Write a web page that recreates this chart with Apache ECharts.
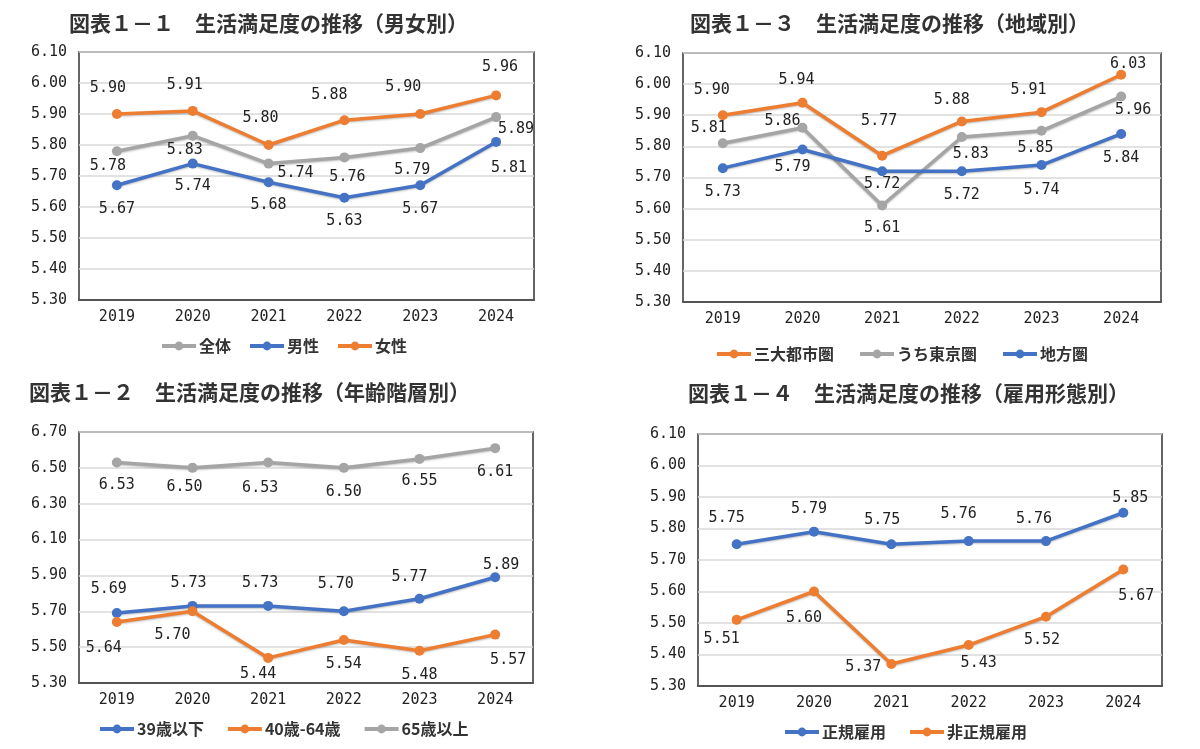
<!DOCTYPE html>
<html>
<head>
<meta charset="utf-8">
<script src="https://cdn.jsdelivr.net/npm/echarts@6/dist/echarts.min.js"></script>
<style>
html,body{margin:0;padding:0;background:#fff;}
#c{width:1200px;height:749px;}
</style>
</head>
<body>
<div id="c"></div>
<script>
// ---- data ----
const years = ['2019', '2020', '2021', '2022', '2023', '2024'];

const titles = [
  '図表１－１　生活満足度の推移（男女別）',
  '図表１－３　生活満足度の推移（地域別）',
  '図表１－２　生活満足度の推移（年齢階層別）',
  '図表１－４　生活満足度の推移（雇用形態別）'
];

// 図表1-1
const p1Total  = [5.78, 5.83, 5.74, 5.76, 5.79, 5.89];
const p1Male   = [5.67, 5.74, 5.68, 5.63, 5.67, 5.81];
const p1Female = [5.90, 5.91, 5.80, 5.88, 5.90, 5.96];
// 図表1-3
const p2Metro  = [5.90, 5.94, 5.77, 5.88, 5.91, 6.03];
const p2Tokyo  = [5.81, 5.86, 5.61, 5.83, 5.85, 5.96];
const p2Local  = [5.73, 5.79, 5.72, 5.72, 5.74, 5.84];
// 図表1-2
const p3Under39 = [5.69, 5.73, 5.73, 5.70, 5.77, 5.89];
const p3Mid     = [5.64, 5.70, 5.44, 5.54, 5.48, 5.57];
const p3Over65  = [6.53, 6.50, 6.53, 6.50, 6.55, 6.61];
// 図表1-4
const p4Regular    = [5.75, 5.79, 5.75, 5.76, 5.76, 5.85];
const p4NonRegular = [5.51, 5.60, 5.37, 5.43, 5.52, 5.67];

// axis ranges
const axisMin = [5.3, 5.3, 5.3, 5.3];
const axisMax = [6.1, 6.1, 6.7, 6.1];
const axisStep = [0.1, 0.1, 0.2, 0.1];

// ---- styles ----
const ORANGE = '#ED7D31', GRAY = '#A5A5A5', BLUE = '#4472C4';
const NUMFONT = 'DejaVu Sans Mono';
const JPFONT = 'Noto Sans CJK JP';

// label offsets (pixels) relative to the point
const offs = {
  p1Total:  [[-9,15],[-8,14],[27,10],[3,20],[-8,22],[20,12]],
  p1Male:   [[0,24],[0,23],[0,23],[0,23],[0,24],[13,26]],
  p1Female: [[-9,-26],[-8,-26],[-8,-27],[-15,-25],[-17,-27],[4,-28]],
  p2Metro:  [[-11,-25],[-6,-23],[-3,-35],[-10,-21],[-13,-22],[7,-11]],
  p2Tokyo:  [[-14,-15],[-20,-7],[0,23],[9,17],[-6,17],[12,14]],
  p2Local:  [[0,24],[-10,18],[0,13],[0,24],[0,25],[0,24]],
  p3Under39:[[-8,-24],[-4,-23],[-8,-23],[-8,-27],[-10,-22],[6,-12]],
  p3Mid:    [[-13,26],[-20,24],[-10,16],[0,24],[0,24],[13,26]],
  p3Over65: [[0,23],[-8,19],[-8,26],[0,24],[0,22],[0,24]],
  p4Regular:[[-10,-26],[-5,-23],[-9,-24],[-10,-27],[-12,-22],[7,-15]],
  p4NonRegular:[[-15,19],[-10,27],[-28,3],[10,18],[-4,23],[13,27]]
};

const grids = [
  {left: 79,  top: 52,  width: 455, height: 248},
  {left: 683, top: 53,  width: 478, height: 249},
  {left: 79,  top: 432, width: 454, height: 251},
  {left: 698, top: 434, width: 464, height: 252}
];

function mkSeries(name, values, color, gi, off) {
  return {
    name: name, type: 'line', xAxisIndex: gi, yAxisIndex: gi,
    data: values.map((v, i) => ({
      value: v,
      label: {offset: off[i]}
    })),
    color: color,
    symbol: 'circle', symbolSize: 10,
    lineStyle: {width: 3.5, color: color, shadowColor: 'rgba(0,0,0,0.25)', shadowBlur: 2, shadowOffsetY: 1},
    itemStyle: {color: color},
    label: {
      show: true, position: 'inside',
      formatter: p => p.value.toFixed(2),
      fontFamily: NUMFONT, fontSize: 15, color: '#222'
    },
    emphasis: {disabled: true},
    animation: false
  };
}

const series = [
  mkSeries('全体', p1Total, GRAY, 0, offs.p1Total),
  mkSeries('男性', p1Male, BLUE, 0, offs.p1Male),
  mkSeries('女性', p1Female, ORANGE, 0, offs.p1Female),
  mkSeries('三大都市圏', p2Metro, ORANGE, 1, offs.p2Metro),
  mkSeries('うち東京圏', p2Tokyo, GRAY, 1, offs.p2Tokyo),
  mkSeries('地方圏', p2Local, BLUE, 1, offs.p2Local),
  mkSeries('39歳以下', p3Under39, BLUE, 2, offs.p3Under39),
  mkSeries('40歳-64歳', p3Mid, ORANGE, 2, offs.p3Mid),
  mkSeries('65歳以上', p3Over65, GRAY, 2, offs.p3Over65),
  mkSeries('正規雇用', p4Regular, BLUE, 3, offs.p4Regular),
  mkSeries('非正規雇用', p4NonRegular, ORANGE, 3, offs.p4NonRegular)
];

const titlePos = [
  {left: 69, top: 13},
  {left: 690, top: 13},
  {left: 29, top: 382},
  {left: 688, top: 383}
];

const legendPos = [
  {left: 160, top: 338, gap: 17, names: ['全体', '男性', '女性']},
  {left: 715, top: 346, gap: 24, names: ['三大都市圏', 'うち東京圏', '地方圏']},
  {left: 98, top: 721, gap: 22, names: ['39歳以下', '40歳-64歳', '65歳以上']},
  {left: 783, top: 724, gap: 22, names: ['正規雇用', '非正規雇用']}
];

const option = {
  backgroundColor: '#fff',
  animation: false,
  title: titles.map((t, i) => ({
    text: t, left: titlePos[i].left, top: titlePos[i].top, padding: 0,
    textStyle: {fontFamily: JPFONT, fontSize: 21, fontWeight: 'bold', color: '#333'}
  })),
  legend: legendPos.map(l => ({
    left: l.left, top: l.top, data: l.names, padding: 0,
    itemWidth: 34, itemHeight: 11, itemGap: l.gap,
    lineStyle: {width: 4},
    textStyle: {fontFamily: JPFONT, fontSize: 16, fontWeight: 'bold', color: '#333', padding: [0, 0, 0, -2]},
    selectedMode: false
  })),
  grid: grids.map(g => Object.assign({
    show: true, borderColor: '#333', borderWidth: 1.5, backgroundColor: '#fff', containLabel: false
  }, g)),
  xAxis: grids.map((g, i) => ({
    type: 'category', gridIndex: i, data: years, boundaryGap: true,
    axisLine: {show: true, lineStyle: {color: '#333', width: 1.5}},
    axisTick: {show: false},
    axisLabel: {fontFamily: NUMFONT, fontSize: 15, color: '#222', margin: 10},
    splitLine: {show: false}
  })),
  yAxis: grids.map((g, i) => ({
    type: 'value', gridIndex: i, min: axisMin[i], max: axisMax[i], interval: axisStep[i],
    axisLine: {show: false}, axisTick: {show: false},
    axisLabel: {fontFamily: NUMFONT, fontSize: 15, color: '#222', margin: 12,
      formatter: v => v.toFixed(2)},
    splitLine: {show: true, lineStyle: {color: '#D9D9D9', width: 1.5}}
  })),
  series: series
};

const chart = echarts.init(document.getElementById('c'), null, {renderer: 'canvas'});
chart.setOption(option);
</script>
</body>
</html>
